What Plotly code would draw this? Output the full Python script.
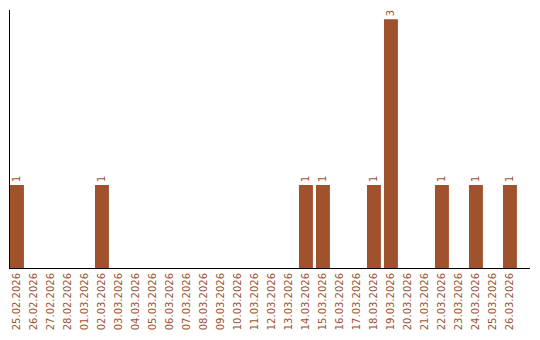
import plotly.graph_objects as go

dates = ["25.02.2026", "26.02.2026", "27.02.2026", "28.02.2026", "01.03.2026",
         "02.03.2026", "03.03.2026", "04.03.2026", "05.03.2026", "06.03.2026",
         "07.03.2026", "08.03.2026", "09.03.2026", "10.03.2026", "11.03.2026",
         "12.03.2026", "13.03.2026", "14.03.2026", "15.03.2026", "16.03.2026",
         "17.03.2026", "18.03.2026", "19.03.2026", "20.03.2026", "21.03.2026",
         "22.03.2026", "23.03.2026", "24.03.2026", "25.03.2026", "26.03.2026"]
counts = [1, 0, 0, 0, 0, 1, 0, 0, 0, 0, 0, 0, 0, 0, 0, 0, 0, 1, 1, 0,
          0, 1, 3, 0, 0, 1, 0, 1, 0, 1]

labels = [str(v) if v else "" for v in counts]
color = "#a0522d"

fig = go.Figure(go.Bar(
    x=dates, y=counts, text=labels, textposition="outside", textangle=-90,
    textfont=dict(family="DejaVu Sans", size=10, color=color),
    marker=dict(color=color, line=dict(width=0)), width=0.82,
    cliponaxis=False,
))

fig.update_layout(
    width=540, height=340,
    margin=dict(l=10, r=10, t=10, b=70),
    paper_bgcolor="white", plot_bgcolor="white",
    showlegend=False,
    font=dict(family="DejaVu Sans", size=10, color=color),
    uniformtext=dict(minsize=10, mode="show"),
    xaxis=dict(type="category", range=[-0.41, 30.18], tickangle=-90,
               showline=True, linecolor="black", linewidth=1,
               showgrid=False, ticks="", tickfont=dict(size=10, color=color)),
    yaxis=dict(range=[0, 3.11], showline=True, linecolor="black", linewidth=1,
               showgrid=False, zeroline=False, showticklabels=False, ticks=""),
)

fig.write_html("out.html")
